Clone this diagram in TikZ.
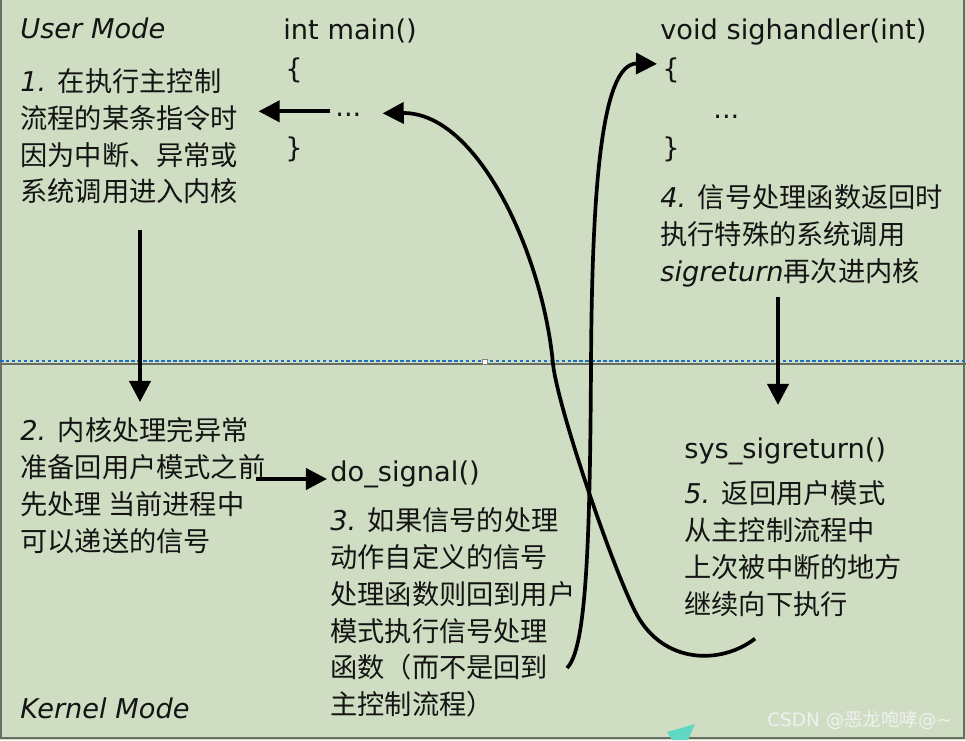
\documentclass[tikz,border=0pt]{standalone}
\usepackage{fontspec}
\setmainfont{DejaVu Sans}
\newfontfamily\cjk{Noto Sans CJK SC}
\usepackage{tikz}
\usetikzlibrary{
  arrows.meta,
  positioning,
  calc
}
\definecolor{panelbg}{RGB}{207, 222, 194}
\definecolor{framegray}{RGB}{105, 110, 100}
\definecolor{selblue}{RGB}{30, 110, 190}
\definecolor{markteal}{RGB}{95, 215, 195}
\definecolor{inkblack}{RGB}{20, 20, 20}
\tikzset{
  blocktxt/.style = {
    anchor=north west, inner sep=0pt, align=left,
    text=inkblack, font=\fontsize{15.5}{21}\selectfont
  },
  srcline/.style = {
    anchor=base west, inner sep=0pt,
    text=inkblack, font=\fontsize{15.5}{21}\selectfont
  },
  arr/.style = {-{Triangle[length=12pt, width=12pt]}, draw=black, line width=2.2pt},
  curvearr/.style = {-{Triangle[length=12pt, width=12pt]}, draw=black, line width=2.1pt},
}

\begin{document}
\begin{tikzpicture}[x=0.02cm, y=-0.02cm]

  \useasboundingbox (0,0) rectangle (966,740);
  \fill[panelbg] (0,0) rectangle (966,740);

  % frame and mode divider
  \draw[framegray, line width=1.5pt] (1,0) -- (1,738) -- (964,738) -- (964,0);
  \draw[framegray, line width=1.5pt] (0,364) -- (966,364);
  \draw[selblue, line width=1pt, dash pattern=on 2pt off 1.4pt] (0,361) -- (966,361);
  \draw[gray, fill=white, line width=0.4pt] (482,359) rectangle (487,364);

  \node[srcline, font=\fontsize{15.5}{21}\selectfont\itshape] (umode) at (20,39) {User Mode};
  \node[srcline, font=\fontsize{15.5}{21}\selectfont\itshape] (kmode) at (20,718) {Kernel Mode};

  % main
  \node[srcline] (mainfn) at (283,40) {int main()};
  \node[srcline] (mlb)    at (285,79) {\{};
  \node[srcline] (mdots)  at (335,116) {...};
  \node[srcline] (mrb)    at (285,157) {\}};

  % handler
  \node[srcline] (hdlfn) at (660,40) {void sighandler(int)};
  \node[srcline] (hlb)   at (662,79) {\{};
  \node[srcline] (hdots) at (713,118) {...};
  \node[srcline] (hrb)   at (662,157) {\}};

  \node[blocktxt] (s1) at (20,68)
    {{\itshape 1.} {\cjk 在执行主控制}\\{\cjk 流程的某条指令时}\\
     {\cjk 因为中断、异常或}\\{\cjk 系统调用进入内核}};

  \node[blocktxt] (s4) at (660,184)
    {{\itshape 4.} {\cjk 信号处理函数返回时}\\{\cjk 执行特殊的系统调用}\\
     {\itshape sigreturn}{\cjk 再次进内核}};

  \node[blocktxt] (s2) at (20,417)
    {{\itshape 2.} {\cjk 内核处理完异常}\\{\cjk 准备回用户模式之前}\\
     {\cjk 先处理 当前进程中}\\{\cjk 可以递送的信号}};

  \node[srcline] (dosig) at (330,481) {do\_signal()};

  \node[blocktxt] (s3) at (330,507)
    {{\itshape 3.} {\cjk 如果信号的处理}\\{\cjk 动作自定义的信号}\\
     {\cjk 处理函数则回到用户}\\{\cjk 模式执行信号处理}\\
     {\cjk 函数（而不是回到}\\{\cjk 主控制流程）}};

  \node[srcline] (sysret) at (684,458) {sys\_sigreturn()};

  \node[blocktxt] (s5) at (684,480)
    {{\itshape 5.} {\cjk 返回用户模式}\\{\cjk 从主控制流程中}\\
     {\cjk 上次被中断的地方}\\{\cjk 继续向下执行}};

  \coordinate (hstart) at ($(s3.north west)+(237,161)$);
  \coordinate (rstart) at ($(s5.south west)+(71,22)$);

  % Arrows
  \draw[arr] ($(mdots.west)+(-5,-3)$) -- ($(mdots.west -| s1.east)+(20,-3)$);
  \draw[arr] ($(s1.south west)+(120,25)$) coordinate (d1) -- ($(d1 |- s2.north)+(0,-15)$);
  \draw[arr] ($(s2.east |- dosig.base)+(-10,-2)$) -- ($(dosig.base west)+(-3,-2)$);
  \draw[arr] ($(s4.south west)+(118,10)$) coordinate (d4) -- ($(d4 |- sysret.north)+(0,-32)$);

  \draw[curvearr] (hstart) .. controls +(18,-18) and (590,560) .. (591,364)
    .. controls (592,200) and (600,63) .. ($(hlb.west)+(-5,-7)$);

  \draw[curvearr] (rstart) .. controls (722,664) and (668,664) .. (640,620)
    .. controls (620,590) and (558,410) .. (553,364)
    .. controls (543,255) and (478,112) .. ($(mdots.east)+(21,-1)$);

  % watermark
  \fill[markteal] (667,732) -- (695,724) -- (688,740) -- (672,740) -- cycle;
  \node[srcline, font=\fontsize{10.5}{12}\selectfont, text=white!88!gray] (mark) at (767,726)
    {CSDN @{\cjk 恶龙咆哮}@\textasciitilde};

\end{tikzpicture}
\end{document}
